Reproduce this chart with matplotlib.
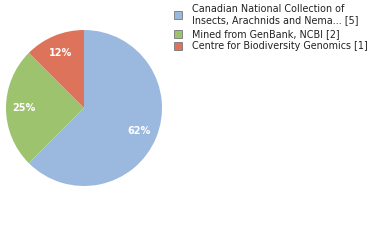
import matplotlib

matplotlib.use("Agg")
import matplotlib.pyplot as plt
import numpy as np
from matplotlib.patches import Rectangle

labels = [
    "Canadian National Collection of\nInsects, Arachnids and Nema... [5]",
    "Mined from GenBank, NCBI [2]",
    "Centre for Biodiversity Genomics [1]",
]
counts = [5, 2, 1]
pct_labels = ["62%", "25%", "12%"]
colors = ["#9bb9df", "#9dc36f", "#dc735a"]

W, H = 380, 240
fig = plt.figure(figsize=(W / 100, H / 100), dpi=100)

# pie centre ~ (84, 108) px, radius ~ 78 px
cx, cy, r = 84, 108, 78
ax = fig.add_axes([(cx - r) / W, 1 - (cy + r) / H, 2 * r / W, 2 * r / H])
wedges, _ = ax.pie(counts, colors=colors, startangle=90, counterclock=False,
                   wedgeprops=dict(linewidth=0))
ax.set_aspect("equal")
ax.set_xlim(-1, 1)
ax.set_ylim(-1, 1)

for w, txt in zip(wedges, pct_labels):
    ang = np.deg2rad((w.theta1 + w.theta2) / 2)
    ax.text(0.77 * np.cos(ang), 0.77 * np.sin(ang), txt, ha="center", va="center",
            color="white", fontsize=7, fontweight="semibold")

# legend drawn in figure pixel coords
rows_y = [14.5, 34, 46]
for y, lab, col in zip(rows_y, labels, colors):
    fig.add_artist(Rectangle((174 / W, 1 - (y + 4) / H), 8 / W, 8 / H,
                             transform=fig.transFigure, facecolor=col,
                             edgecolor="#777777", linewidth=0.6))
    fig.text(192 / W, 1 - y / H, lab, ha="left", va="center", fontsize=6.9,
             color="#222222", linespacing=1.05)

fig.savefig("out.png", dpi=100)
